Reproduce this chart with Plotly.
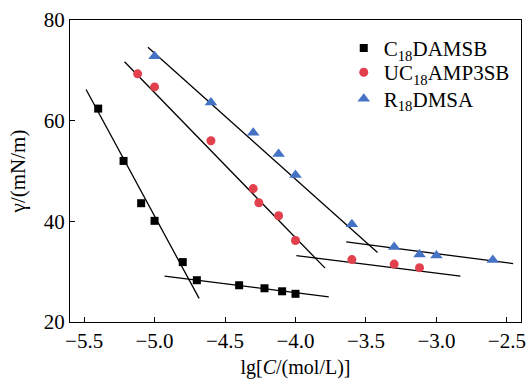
import plotly.graph_objects as go

# Data points
c18_x = [-5.40, -5.22, -5.095, -5.00, -4.80, -4.70, -4.40, -4.22, -4.095, -4.00]
c18_y = [62.4, 52.0, 43.6, 40.1, 31.9, 28.3, 27.3, 26.7, 26.1, 25.6]

uc_x = [-5.12, -5.00, -4.60, -4.30, -4.26, -4.12, -4.00, -3.60, -3.30, -3.12]
uc_y = [69.3, 66.7, 56.0, 46.5, 43.7, 41.1, 36.2, 32.4, 31.5, 30.8]

r_x = [-5.00, -4.60, -4.30, -4.12, -4.00, -3.60, -3.30, -3.12, -3.00, -2.60]
r_y = [72.8, 63.6, 57.6, 53.4, 49.2, 39.4, 34.9, 33.4, 33.2, 32.3]

# Fitted line endpoints
fit_lines = [
    ([-5.486, -4.684], [66.2, 24.7]),
    ([-4.929, -3.764], [29.1, 25.0]),
    ([-5.213, -3.790], [71.7, 30.7]),
    ([-3.994, -2.830], [33.2, 29.1]),
    ([-5.047, -3.418], [74.6, 33.8]),
    ([-3.640, -2.456], [35.9, 31.6]),
]

x_ticks = [-5.5, -5.0, -4.5, -4.0, -3.5, -3.0, -2.5]
y_ticks = [20, 40, 60, 80]

FONT = "Liberation Serif, Times New Roman, serif"

fig = go.Figure()
for lx, ly in fit_lines:
    fig.add_trace(go.Scatter(x=lx, y=ly, mode="lines",
                             line=dict(color="black", width=1.3),
                             showlegend=False, hoverinfo="skip"))

fig.add_trace(go.Scatter(x=c18_x, y=c18_y, mode="markers", name="C<sub>18</sub>DAMSB",
                         legend="legend",
                         marker=dict(symbol="square", size=8, color="black")))
fig.add_trace(go.Scatter(x=uc_x, y=uc_y, mode="markers", name="UC<sub>18</sub>AMP3SB",
                         legend="legend2",
                         marker=dict(symbol="circle", size=9, color="#E2404C")))
fig.add_trace(go.Scatter(x=r_x, y=r_y, mode="markers", name="R<sub>18</sub>DMSA",
                         legend="legend3",
                         marker=dict(symbol="triangle-up", size=11, color="#4472C4")))

leg_common = dict(x=0.607, xanchor="left", yanchor="middle",
                  bgcolor="rgba(0,0,0,0)", font=dict(size=21, family=FONT),
                  itemwidth=30)

fig.update_layout(
    width=527, height=379,
    margin=dict(l=70, r=6, t=20, b=57),
    paper_bgcolor="white", plot_bgcolor="white",
    font=dict(family=FONT, size=21, color="black"),
    legend=dict(y=0.906, **leg_common),
    legend2=dict(y=0.826, **leg_common),
    legend3=dict(y=0.738, **leg_common),
    showlegend=True,
)
fig.update_xaxes(range=[-5.6, -2.4], tickvals=x_ticks, tickformat=".1f",
                 ticks="inside", ticklen=5, tickcolor="black",
                 tickfont=dict(size=21, family=FONT),
                 showline=True, linecolor="black", linewidth=1, mirror=True,
                 showgrid=False, zeroline=False, automargin=False,
                 title=dict(text="lg[<i>C</i>/(mol/L)]", standoff=10,
                            font=dict(size=20, family=FONT)))
fig.update_yaxes(range=[20, 80], tickvals=y_ticks,
                 ticks="inside", ticklen=5, tickcolor="black",
                 tickfont=dict(size=21, family=FONT),
                 showline=True, linecolor="black", linewidth=1, mirror=True,
                 showgrid=False, zeroline=False, automargin=False,
                 title=dict(text="γ/(mN/m)", standoff=12,
                            font=dict(size=21, family=FONT)))

fig.write_html("out.html")
